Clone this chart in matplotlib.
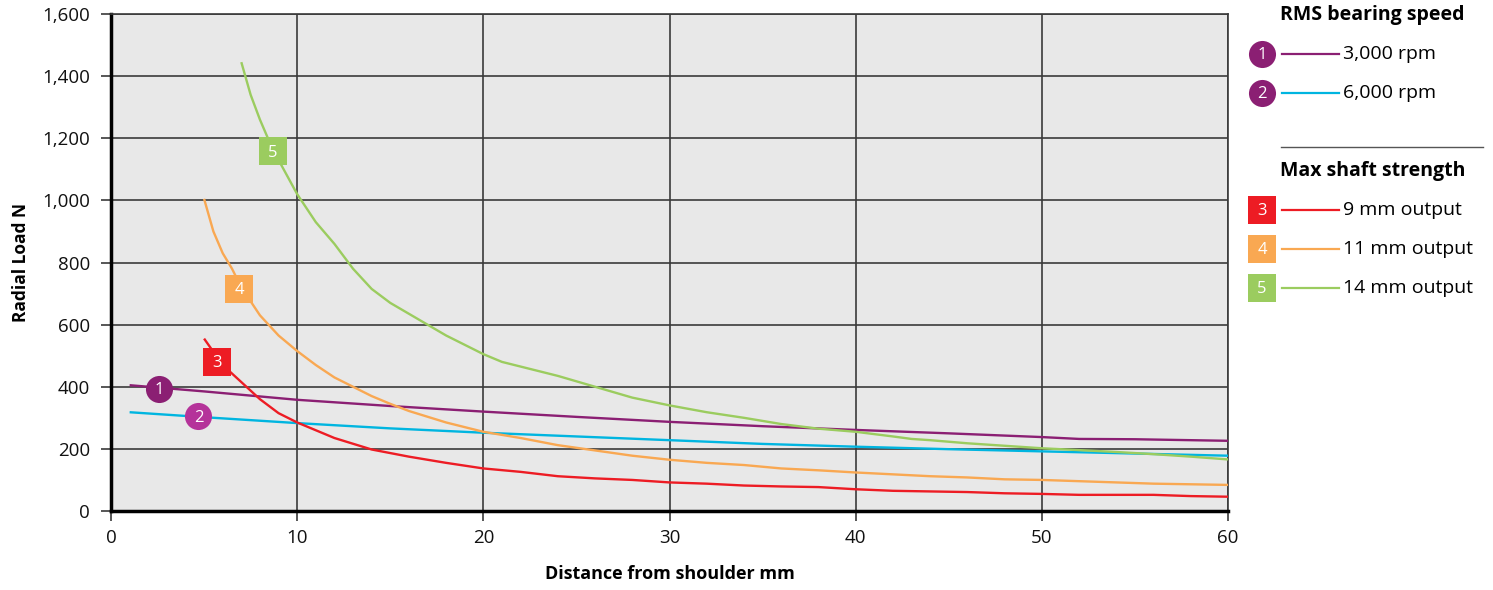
import numpy as np
import matplotlib.pyplot as plt
from matplotlib.lines import Line2D

plt.rcParams['font.family'] = ['Open Sans', 'DejaVu Sans']

# Series data (distance from shoulder mm, radial load N)
rpm3000_x = [1, 5, 10, 15, 20, 25, 30, 35, 40, 45, 50, 52, 55, 60]
rpm3000_y = [405, 385, 358, 338, 320, 303, 287, 273, 261, 250, 238, 232, 231, 226]

rpm6000_x = [1, 5, 10, 15, 20, 25, 30, 35, 40, 45, 50, 55, 60]
rpm6000_y = [318, 302, 283, 266, 252, 240, 228, 216, 207, 199, 192, 185, 178]

mm9_x = [5, 6, 7, 8, 9, 10, 12, 14, 16, 18, 20, 22, 24, 26, 28, 30, 32, 34, 36, 38,
         40, 42, 44, 46, 48, 50, 52, 56, 58, 60]
mm9_y = [555, 470, 415, 360, 315, 285, 235, 198, 175, 155, 137, 126, 112, 105, 100, 92,
         88, 82, 79, 77, 70, 65, 63, 61, 57, 55, 52, 52, 48, 46]

mm11_x = [5, 5.5, 6, 6.5, 7, 8, 9, 10, 11, 12, 13, 14, 15, 16, 18, 20, 22, 24, 26, 28,
          30, 32, 34, 36, 38, 40, 42, 44, 46, 48, 50, 52, 54, 56, 58, 60]
mm11_y = [1005, 900, 830, 780, 720, 630, 565, 515, 470, 430, 400, 370, 345, 322, 285,
          255, 235, 212, 195, 178, 165, 155, 148, 137, 131, 124, 118, 112, 108, 102, 100,
          96, 92, 88, 86, 84]

mm14_x = [7, 7.5, 8, 8.5, 9, 10, 11, 12, 13, 14, 15, 16, 17, 18, 19, 20, 21, 22, 24, 26,
          28, 30, 32, 34, 36, 38, 40, 42, 43, 44, 46, 48, 50, 52, 54, 56, 58, 60]
mm14_y = [1445, 1340, 1260, 1190, 1130, 1020, 930, 860, 780, 715, 670, 635, 600, 565,
          535, 505, 480, 465, 435, 400, 365, 340, 318, 300, 280, 265, 255, 240, 232, 228,
          218, 210, 202, 196, 190, 183, 175, 166]

# numbered callouts on the curves
badge_x = [2.6, 4.7, 5.7, 6.9, 8.7]
badge_y = [393, 306, 480, 715, 1159]
badge_txt = ['1', '2', '3', '4', '5']
badge_shape = ['o', 'o', 's', 's', 's']

x_ticks = [0, 10, 20, 30, 40, 50, 60]
y_ticks = [0, 200, 400, 600, 800, 1000, 1200, 1400, 1600]

PURPLE = '#8b1f73'
MAGENTA = '#b5339a'
CYAN = '#00b5e0'
RED = '#ed1c24'
ORANGE = '#f9a852'
GREEN = '#9bcc5f'


def draw_chart(fig):
    ax = fig.add_axes([111 / 1493, 79 / 590, 1117 / 1493, 497 / 590])
    ax.set_facecolor('#e8e8e8')

    series = [(rpm3000_x, rpm3000_y, PURPLE), (rpm6000_x, rpm6000_y, CYAN),
              (mm9_x, mm9_y, RED), (mm11_x, mm11_y, ORANGE), (mm14_x, mm14_y, GREEN)]
    for xs, ys, c in series:
        ax.plot(xs, ys, color=c, lw=1.7, zorder=3, solid_capstyle='butt')

    badge_col = [PURPLE, MAGENTA, RED, ORANGE, GREEN]
    for bx, by, t, m, c in zip(badge_x, badge_y, badge_txt, badge_shape, badge_col):
        ax.scatter(bx, by, s=380, marker=m, color=c, zorder=4, linewidths=0)
        ax.text(bx, by - 5, t, color='white', fontsize=12, ha='center', va='center', zorder=5)

    ax.set_xlim(0, 60)
    ax.set_ylim(0, 1600)
    ax.set_xticks(x_ticks)
    ax.set_yticks(y_ticks)
    ax.set_yticklabels([f'{v:,}' for v in y_ticks])
    ax.grid(True, color='#3a3a3a', lw=1.2)
    ax.set_axisbelow(True)
    ax.tick_params(labelsize=13.5, length=7, width=1.2, color='#3a3a3a', labelcolor='#111111')
    ax.tick_params(axis='y', pad=8)
    ax.tick_params(axis='x', pad=6)

    for s in ['top', 'right']:
        ax.spines[s].set_color('#3a3a3a')
        ax.spines[s].set_linewidth(1.2)
    for s in ['left', 'bottom']:
        ax.spines[s].set_color('black')
        ax.spines[s].set_linewidth(2.5)

    ax.set_xlabel('Distance from shoulder mm', fontsize=13, fontweight='bold', labelpad=13)
    ax.set_ylabel('Radial Load N', fontsize=12.5, fontweight='bold', labelpad=9)
    return ax


def draw_legend(fig):
    # legend panel in pixel coordinates
    lg = fig.add_axes([0, 0, 1, 1])
    lg.set_xlim(0, 1493)
    lg.set_ylim(590, 0)
    lg.axis('off')

    lg.text(1280, 15, 'RMS bearing speed', fontsize=14, fontweight='bold', va='center')
    lg.text(1280, 171, 'Max shaft strength', fontsize=14, fontweight='bold', va='center')
    lg.add_line(Line2D([1281, 1483], [147, 147], color='#555555', lw=1))

    rows = [(54, 'o', PURPLE, PURPLE, '1', '3,000 rpm'),
            (93, 'o', PURPLE, CYAN, '2', '6,000 rpm'),
            (210, 's', RED, RED, '3', '9 mm output'),
            (249, 's', ORANGE, ORANGE, '4', '11 mm output'),
            (288, 's', GREEN, GREEN, '5', '14 mm output')]
    for y, m, bc, lc, t, label in rows:
        lg.scatter(1262, y, s=380, marker=m, color=bc, linewidths=0)
        lg.text(1262, y + 1, t, color='white', fontsize=12, ha='center', va='center')
        lg.add_line(Line2D([1282, 1339], [y, y], color=lc, lw=1.6))
        lg.text(1343, y, label, fontsize=14, va='center')


if __name__ == "__main__":
    fig = plt.figure(figsize=(14.93, 5.9), dpi=100)
    draw_chart(fig)
    draw_legend(fig)
    fig.savefig('out.png', dpi=100)
